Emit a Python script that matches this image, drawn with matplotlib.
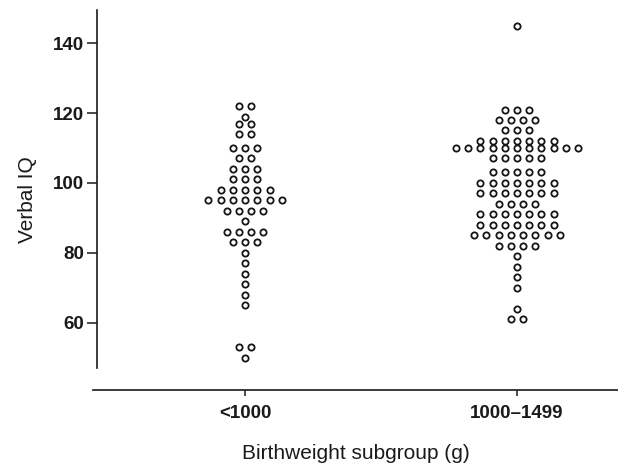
import matplotlib
matplotlib.use('Agg')
import matplotlib.pyplot as plt
import numpy as np

# --- DATA ---
categories = ['<1000', '1000\u20131499']

# <1000 g group: IQ level of each row of dots, and how many dots sit in that row
low_iq = [122, 119, 117, 114, 110, 107, 104, 101, 98, 95, 92, 89, 86, 83, 80, 77, 74, 71, 68, 65, 53, 50]
low_counts = [2, 1, 2, 2, 3, 2, 3, 3, 5, 7, 4, 1, 4, 3, 1, 1, 1, 1, 1, 1, 2, 1]

# 1000-1499 g group
mid_iq = [145, 121, 118, 115, 112, 110, 107, 103, 100, 97, 94, 91, 88, 85, 82, 79, 76, 73, 70, 64, 61]
mid_counts = [1, 3, 4, 3, 7, 11, 5, 5, 7, 7, 4, 7, 7, 8, 4, 1, 1, 1, 1, 1, 2]

y_ticks = [60, 80, 100, 120, 140]

plt.rcParams['font.family'] = ['Liberation Sans', 'DejaVu Sans']

W, H = 618, 468
fig = plt.figure(figsize=(W / 100, H / 100), dpi=100)
ax = fig.add_axes([93 / W, 1 - 390 / H, (618 - 93) / W, (390 - 10) / H])

DX = 0.045  # horizontal gap between dots in a row (category units)

def swarm(pos, levels, counts):
    xs, ys = [], []
    for v, n in zip(levels, counts):
        for j in range(n):
            xs.append(pos + (j - (n - 1) / 2) * DX)
            ys.append(v)
    return xs, ys

for i, (lv, ct) in enumerate([(low_iq, low_counts), (mid_iq, mid_counts)]):
    xs, ys = swarm(i, lv, ct)
    ax.plot(xs, ys, 'o', ms=4.5, mfc='white', mec='#151515', mew=1.3, ls='none', clip_on=False)

# x: category 0 at px 245, category 1 at px 517
ax.set_xlim(-0.559, 1 + (618 - 517) / 272)
ax.set_ylim(40.7, 149.5)

for s in ['top', 'right']:
    ax.spines[s].set_visible(False)
ax.spines['left'].set_position(('axes', 4 / 525))
ax.spines['left'].set_bounds(47, 149.5)
for s in ['left', 'bottom']:
    ax.spines[s].set_linewidth(1.2)
    ax.spines[s].set_color('#1a1a1a')

ax.set_yticks(y_ticks)
ax.set_yticklabels([str(t) for t in y_ticks], fontsize=13.5, fontweight='bold')
ax.set_xticks([0, 1])
ax.set_xticklabels(categories, fontsize=13.5, fontweight='bold')
ax.tick_params(axis='y', direction='out', length=7, width=1.1, pad=2, colors='#1a1a1a')
ax.tick_params(axis='x', direction='out', length=4.5, width=1.1, pad=6, colors='#1a1a1a')

ax.set_ylabel('Verbal IQ', fontsize=15, labelpad=12, color='#1a1a1a')
ax.set_xlabel('Birthweight subgroup (g)', fontsize=15, labelpad=16, color='#1a1a1a')

fig.savefig('out.png', dpi=100)
